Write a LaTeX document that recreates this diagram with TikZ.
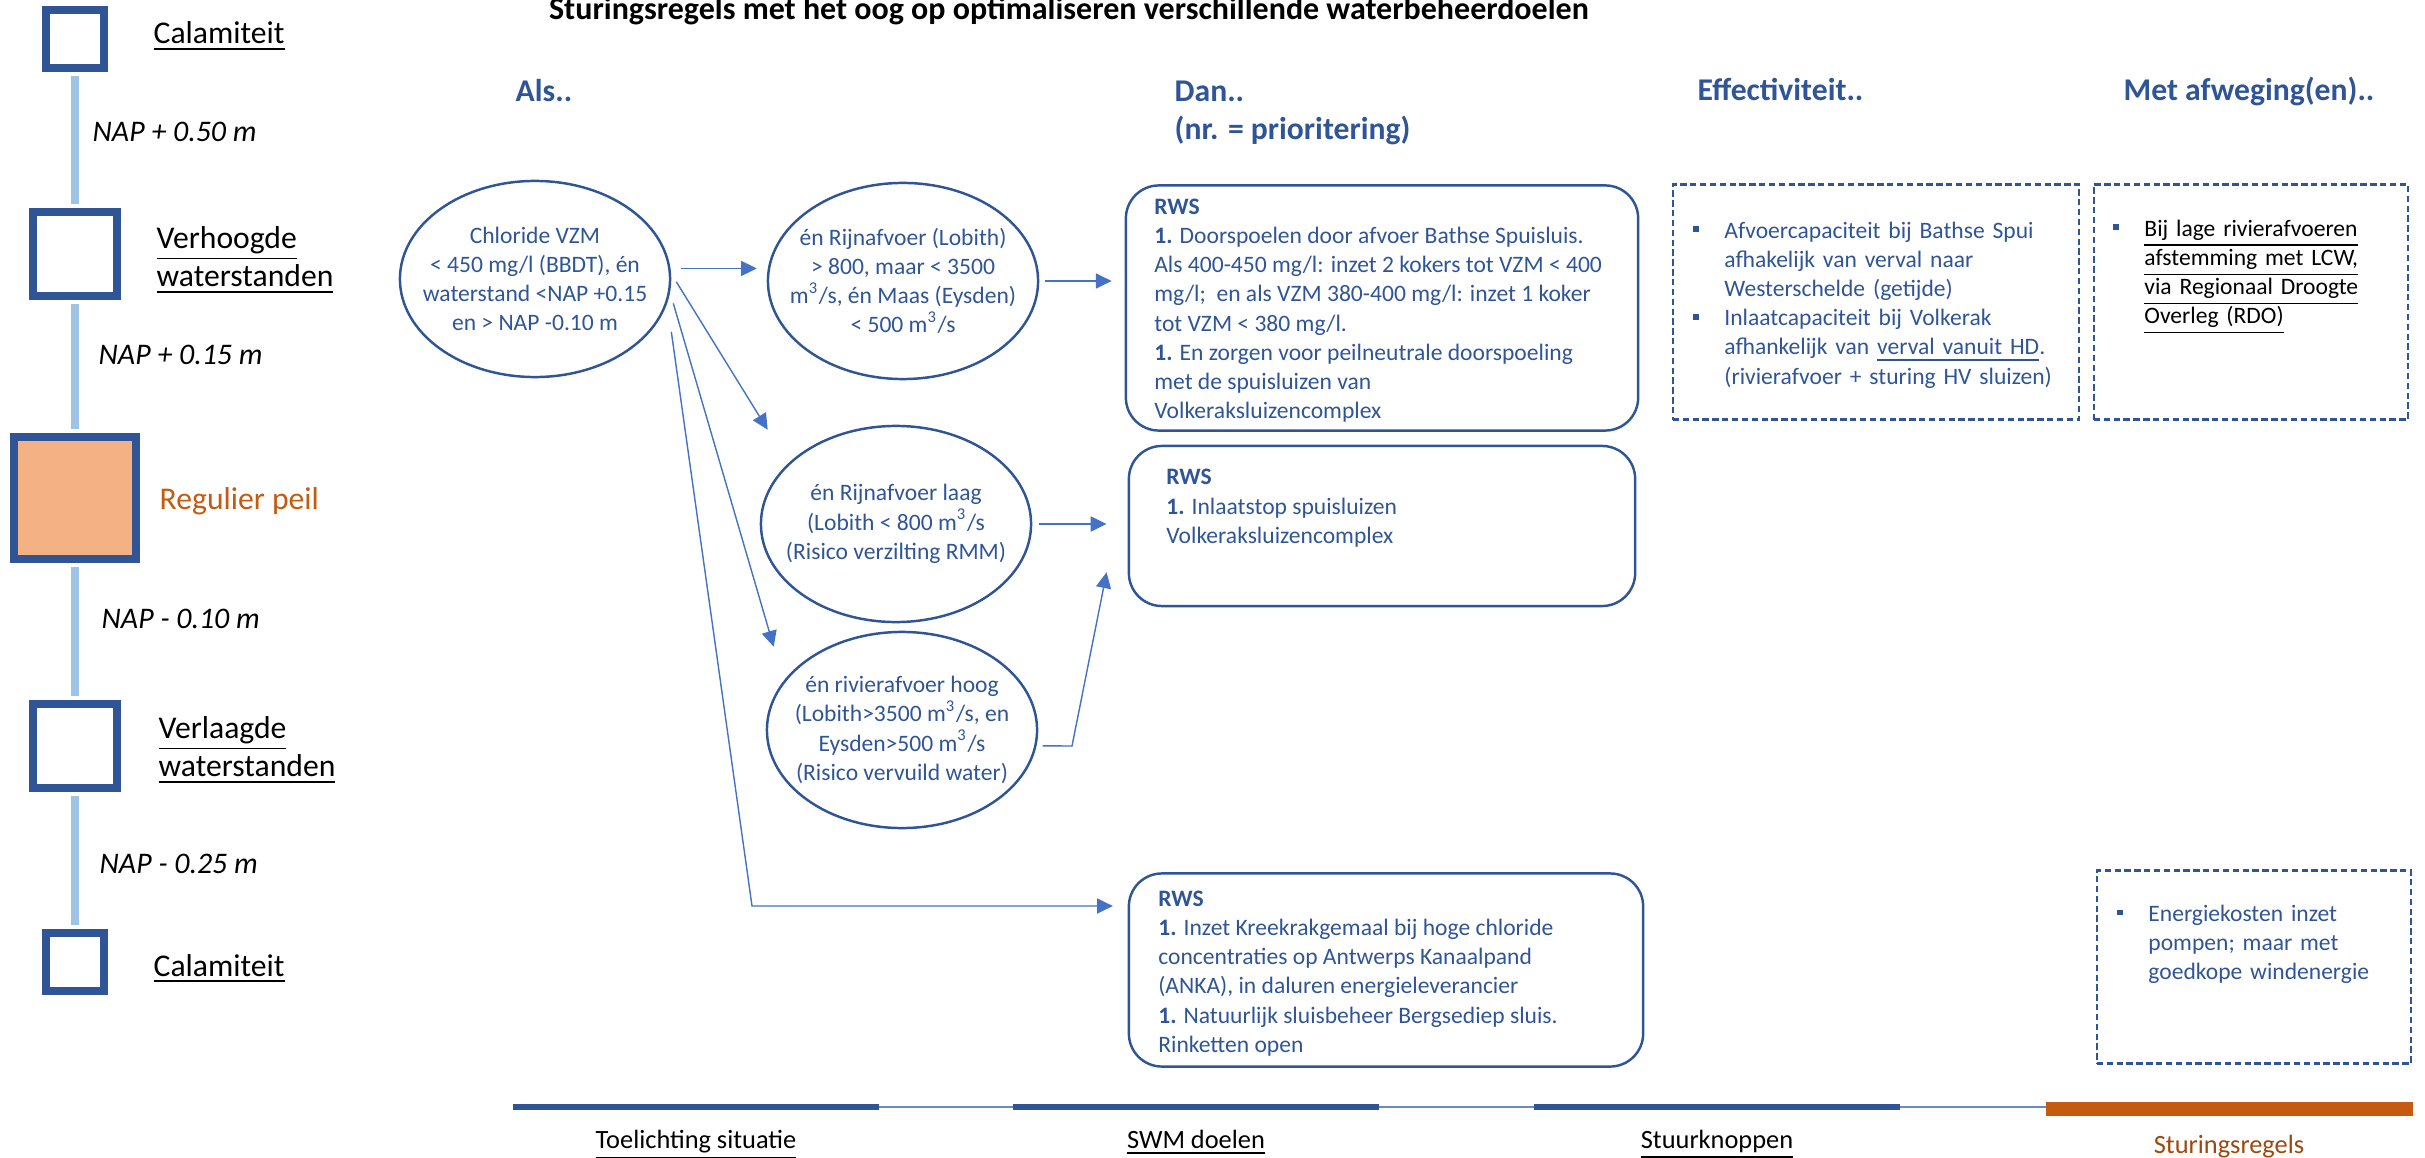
\documentclass[tikz,border=0pt]{standalone}
\usepackage{fontspec}
\setmainfont{Carlito}
\usepackage{tikz}
\usetikzlibrary{arrows.meta}
\usetikzlibrary{positioning}
\usetikzlibrary{shapes.geometric}
\usetikzlibrary{calc}
\definecolor{rwsblauw}{HTML}{2F5597}
\definecolor{pijlblauw}{HTML}{4472C4}
\definecolor{peilblauw}{HTML}{9DC3E6}
\definecolor{peiloranje}{HTML}{F4B183}
\definecolor{donkeroranje}{HTML}{C55A11}
\definecolor{bruin}{HTML}{9E480E}
\definecolor{balkgrijs}{HTML}{6A8AC6}
\newcommand{\klein}{\fontsize{6.7}{8.3}\selectfont}
\newcommand{\opsom}[1]{\par\hangindent=0.31cm\hangafter=1\noindent\makebox[0.31cm][l]{\textcolor{rwsblauw}{\rule[1.7pt]{1.6pt}{1.6pt}}}#1\par}
\tikzstyle{peil}=[draw=rwsblauw,line width=2.15pt,fill=white,inner sep=0pt]
\tikzstyle{peillijn}=[draw=peilblauw,line width=2.2pt,shorten <=1.1pt,shorten >=1.1pt]
\tikzstyle{peiltekst}=[anchor=base west,inner sep=0pt,font=\fontsize{9}{11}\selectfont]
\tikzstyle{naptekst}=[anchor=base west,inner sep=0pt,font=\fontsize{8.5}{10}\selectfont\itshape]
\tikzstyle{kop}=[anchor=base west,inner sep=0pt,text=rwsblauw,font=\fontsize{9}{10.5}\selectfont\bfseries]
\tikzstyle{conditie}=[ellipse,draw=rwsblauw,line width=0.7pt,minimum width=2.70cm,minimum height=1.96cm,inner sep=0pt]
\tikzstyle{conditietekst}=[inner sep=0pt,align=center,text=rwsblauw,font=\klein]
\tikzstyle{rwsbox}=[draw=rwsblauw,line width=0.7pt,rounded corners=0.33cm,inner sep=0pt]
\tikzstyle{afweging}=[draw=rwsblauw,line width=0.7pt,dash pattern=on 1.8pt off 1pt,inner sep=0pt]
\tikzstyle{bloktekst}=[anchor=north west,inner sep=0pt,align=left,text=rwsblauw,font=\klein]
\tikzstyle{pijl}=[draw=pijlblauw,line width=0.4pt,-{Triangle[length=4.5pt,width=4.3pt]}]
\tikzstyle{balklabel}=[anchor=base,inner sep=0pt,font=\fontsize{7.5}{9}\selectfont]

\begin{document}
\begin{tikzpicture}[x=0.01cm,y=-0.01cm]
\useasboundingbox (0,0) rectangle (2425,1158);

\node[anchor=base,inner sep=0pt,font=\fontsize{9.1}{11}\selectfont\bfseries] (titel) at (1069,20)
  {Sturingsregels met het oog op optimaliseren verschillende waterbeheerdoelen};

% peilschaal
\node[peil,minimum size=0.58cm] (cal1) at (75,39) {};
\node[peil,minimum size=0.84cm] (verh) at (75,254) {};
\node[peil,fill=peiloranje,minimum size=1.22cm] (reg) at (75,498) {};
\node[peil,minimum size=0.84cm] (verl) at (75,746) {};
\node[peil,minimum size=0.58cm] (cal2) at (75,962) {};
\foreach \a/\b in {cal1/verh,verh/reg,reg/verl,verl/cal2}
  \draw[peillijn] (\a.south) -- (\b.north);

\node[peiltekst] (lcal1) at (153,44) {\underline{Calamiteit}};
\node[peiltekst,anchor=west,align=left] (lverh) at (156,260) {\underline{Verhoogde}\\\underline{waterstanden}};
\node[peiltekst,text=donkeroranje] (lreg) at (159,509) {Regulier peil};
\node[peiltekst,anchor=west,align=left] (lverl) at (158,750) {\underline{Verlaagde}\\\underline{waterstanden}};
\node[peiltekst] (lcal2) at (153,976) {\underline{Calamiteit}};

\node[naptekst] (nap1) at (92,142) {NAP + 0.50 m};
\node[naptekst] (nap2) at (98,364) {NAP + 0.15 m};
\node[naptekst] (nap3) at (101,628) {NAP - 0.10 m};
\node[naptekst] (nap4) at (99,873) {NAP - 0.25 m};

% kolomkoppen
\node[kop] (als) at (515,102) {Als..};
\node[kop] (dan) at (1174,102) {Dan..};
\node[kop] (prio) at ($(dan.base west)+(0,38)$) {(nr. = prioritering)};
\node[kop] (eff) at (1697,101) {Effectiviteit..};
\node[kop] (afw) at (2123,101) {Met afweging(en)..};

% condities
\node[conditie] (chloride) at (535,279) {};
\node[conditie] (rijnmid) at (903,281) {};
\node[conditie] (rijnlaag) at (896,524) {};
\node[conditie] (rivhoog) at (902,730) {};
\node[conditietekst] (tchloride) at (chloride) {Chloride VZM\\< 450 mg/l (BBDT), én\\waterstand <NAP +0.15\\en > NAP -0.10 m};
\node[conditietekst] (trijnmid) at (rijnmid) {én Rijnafvoer (Lobith)\\> 800, maar < 3500\\m\textsuperscript{3}/s, én Maas (Eysden)\\< 500 m\textsuperscript{3}/s};
\node[conditietekst] (trijnlaag) at (rijnlaag) {én Rijnafvoer laag\\(Lobith < 800 m\textsuperscript{3}/s\\(Risico verzilting RMM)};
\node[conditietekst] (trivhoog) at (rivhoog) {én rivierafvoer hoog\\(Lobith>3500 m\textsuperscript{3}/s, en\\Eysden>500 m\textsuperscript{3}/s\\(Risico vervuild water)};

% maatregelen
\node[rwsbox,minimum width=5.12cm,minimum height=2.45cm] (rws1) at (1382,308) {};
\node[rwsbox,minimum width=5.06cm,minimum height=1.60cm] (rws2) at (1382,526) {};
\node[rwsbox,minimum width=5.14cm,minimum height=1.93cm] (rws3) at (1386,970) {};

\node[bloktekst] (trws1) at ($(rws1.north west)+(29,14)$) {\textbf{RWS}\\
  \textbf{1.} Doorspoelen door afvoer Bathse Spuisluis.\\
  Als 400-450 mg/l: inzet 2 kokers tot VZM < 400\\
  mg/l;\ \ en als VZM 380-400 mg/l: inzet 1 koker\\
  tot VZM < 380 mg/l.\\
  \textbf{1.} En zorgen voor peilneutrale doorspoeling\\
  met de spuisluizen van\\
  Volkeraksluizencomplex};
\node[bloktekst] (trws2) at ($(rws2.north west)+(38,24)$) {\textbf{RWS}\\
  \textbf{1.} Inlaatstop spuisluizen\\
  Volkeraksluizencomplex};
\node[bloktekst] (trws3) at ($(rws3.north west)+(30,18)$) {\textbf{RWS}\\
  \textbf{1.} Inzet Kreekrakgemaal bij hoge chloride\\
  concentraties op Antwerps Kanaalpand\\
  (ANKA), in daluren energieleverancier\\
  \textbf{1.} Natuurlijk sluisbeheer Bergsediep sluis.\\
  Rinketten open};

% effectiviteit en afwegingen
\node[afweging,minimum width=4.06cm,minimum height=2.35cm] (eff1) at (1876,302) {};
\node[afweging,minimum width=3.14cm,minimum height=2.35cm] (afw1) at (2251,302) {};
\node[afweging,minimum width=3.14cm,minimum height=1.93cm] (afw2) at (2254,967) {};

\node[bloktekst,text width=4.5cm] (teff1) at ($(eff1.north west)+(21,25)$) {%
  \opsom{Afvoercapaciteit bij Bathse Spui\newline afhakelijk van verval naar\newline Westerschelde (getijde)}%
  \opsom{Inlaatcapaciteit bij Volkerak\newline afhankelijk van \underline{verval vanuit HD}.\newline (rivierafvoer + sturing HV sluizen)}};
\node[bloktekst,text width=3.5cm,text=black] (tafw1) at ($(afw1.north west)+(20,23)$) {%
  \opsom{\underline{Bij lage rivierafvoeren}\newline \underline{afstemming met LCW,}\newline \underline{via Regionaal Droogte}\newline \underline{Overleg (RDO)}}};
\node[bloktekst,text width=3.5cm] (tafw2) at ($(afw2.north west)+(21,22)$) {%
  \opsom{Energiekosten inzet\newline pompen; maar met\newline goedkope windenergie}};

% pijlen
\draw[pijl,shorten <=2.7pt,shorten >=2.8pt] ([yshift=3pt]chloride.east) -- ([yshift=3pt]chloride.east -| rijnmid.west);
\draw[pijl,shorten <=2.7pt] ([yshift=1.5pt]chloride.east) -- ($(rijnlaag.west |- rijnlaag.north)+(8,5)$);
\draw[pijl,shorten <=2pt] ([yshift=-5pt]chloride.east) -- ($(rivhoog.west |- rivhoog.north)+(8,16)$);
\coordinate (knik1) at (752,906);
\draw[pijl,shorten >=4.2pt] ([yshift=-15pt]chloride.east) -- (knik1) -- (knik1 -| rws3.west);
\draw[pijl,shorten <=1.7pt,shorten >=3.7pt] (rijnmid.east) -- (rijnmid.east -| rws1.west);
\draw[pijl,shorten <=2pt,shorten >=6pt] (rijnlaag.east) -- (rijnlaag.east -| rws2.west);
\coordinate (knik2) at (1072,746);
\draw[pijl,shorten <=1.2pt] ([yshift=-4.5pt]rivhoog.east) -- (knik2) -- ($(rws2.south west)+(-21,-35)$);

% voortgangsbalk
\draw[balkgrijs,line width=0.6pt] (513,1107) -- (2413,1107);
\foreach \xa/\xb in {513/879,1013/1379,1534/1900}
  \draw[rwsblauw,line width=1.7pt] (\xa,1107) -- (\xb,1107);
\draw[donkeroranje,line width=4pt] (2046,1109) -- (2413,1109);
\node[balklabel] (toel) at (696,1148) {\underline{Toelichting situatie}};
\node[balklabel] (swm) at (1196,1148) {\underline{SWM doelen}};
\node[balklabel] (stuur) at (1717,1148) {\underline{Stuurknoppen}};
\node[balklabel,text=bruin] (regels) at (2229,1153) {Sturingsregels};
\end{tikzpicture}
\end{document}
